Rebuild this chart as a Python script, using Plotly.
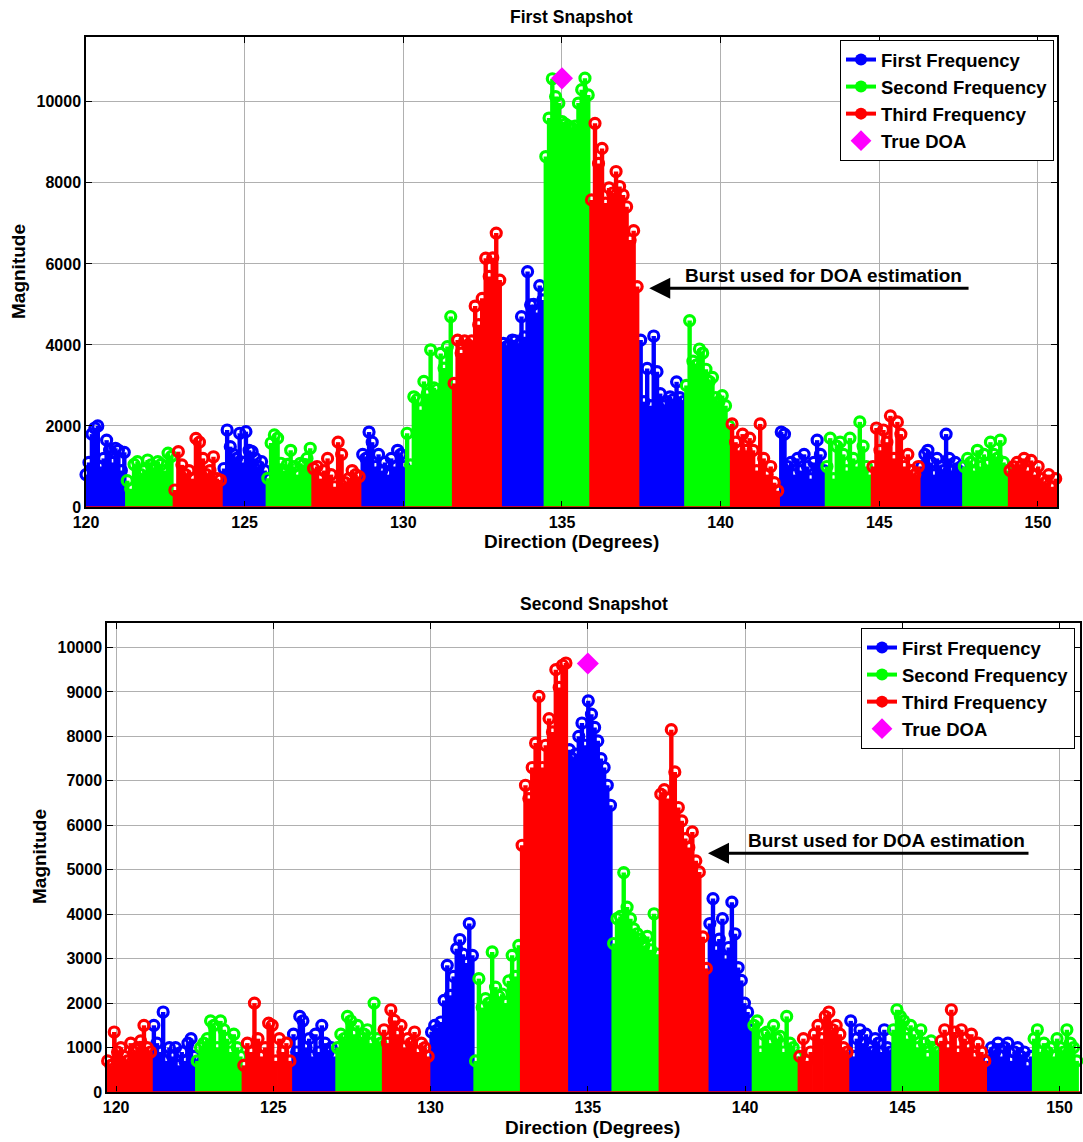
import numpy as np
import plotly.graph_objects as go

# ---------------- data ----------------
series_names = ["First Frequency", "Second Frequency", "Third Frequency"]
series_colors = ["#0000ff", "#00ff00", "#ff0000"]
stems_per_burst = 14

# burst edges (degrees) for the first snapshot; bursts cycle First, Second, Third
top_edges = [120.00, 121.30, 122.80, 124.35, 125.73, 127.17, 128.72, 130.12, 131.60,
             133.15, 134.49, 135.93, 137.48, 138.92, 140.36, 141.91, 143.35, 144.80,
             146.34, 147.68, 149.12, 150.67]
top_first_series = 0
top_bursts = [
    [800, 1100, 1800, 1950, 2000, 1000, 1200, 1650, 1400, 1100, 1450, 1400, 900, 1350],
    [650, 450, 1050, 1120, 800, 900, 1160, 1040, 950, 1120, 1050, 900, 1330, 1250],
    [420, 1365, 1040, 800, 900, 700, 1695, 1600, 1200, 800, 900, 1240, 700, 667],
    [950, 1900, 1490, 1300, 1200, 1820, 1100, 1860, 1400, 1365, 1200, 1000, 1120, 900],
    [710, 1580, 1780, 1700, 1080, 900, 1050, 1400, 1000, 800, 1080, 1050, 1200, 1450],
    [950, 1000, 700, 900, 1200, 800, 500, 1600, 1300, 600, 700, 900, 800, 750],
    [1300, 1200, 1850, 1600, 1000, 1300, 900, 1100, 800, 1200, 1000, 1400, 1300, 1000],
    [1820, 1040, 2720, 2650, 2400, 3100, 2800, 3880, 2940, 2900, 3790, 3430, 3960, 4700],
    [3050, 4120, 3800, 4100, 4000, 4100, 4960, 4500, 5150, 6140, 5690, 6150, 6760, 5600],
    [4040, 3950, 4000, 4120, 4100, 4000, 4700, 4200, 5810, 4990, 5000, 4800, 5465, 5110],
    [8650, 9600, 10570, 10130, 9970, 9510, 9450, 9400, 9350, 9400, 9970, 10300, 10585, 10170],
    [7580, 9470, 8480, 8850, 7500, 7875, 7750, 8280, 7910, 7700, 7410, 6590, 6820, 5440],
    [4120, 2600, 3420, 2500, 4220, 3340, 2800, 2500, 2600, 2720, 2650, 3090, 2700, 2600],
    [3000, 4600, 3600, 3500, 3900, 3800, 3400, 3100, 3200, 2700, 2600, 2750, 2500, 2000],
    [2050, 1600, 1400, 1800, 1400, 1700, 1400, 900, 2050, 1200, 800, 1000, 600, 400],
    [1850, 1800, 1000, 1100, 800, 1200, 900, 1300, 1000, 700, 1100, 1650, 1300, 900],
    [1000, 1700, 700, 1500, 1600, 1300, 900, 1700, 1200, 1000, 2100, 1500, 1000, 800],
    [1000, 1950, 1400, 1900, 1600, 2250, 1200, 2100, 1800, 1000, 1300, 900, 800, 1000],
    [1000, 1300, 1400, 1100, 800, 1200, 1000, 900, 1800, 1200, 900, 1100, 900, 1000],
    [1000, 1200, 1100, 900, 1400, 1000, 1300, 1050, 1600, 1300, 1200, 1650, 1100, 900],
    [900, 1000, 1100, 1000, 1200, 900, 1150, 800, 1000, 700, 600, 800, 500, 700],
]

# second snapshot; bursts cycle Third, First, Second
bottom_edges = [119.73, 121.20, 122.58, 124.06, 125.64, 127.04, 128.52, 130.03, 131.43,
                132.91, 134.41, 135.82, 137.32, 138.88, 140.28, 141.74, 143.36, 144.72,
                146.24, 147.73, 149.19, 150.65]
bottom_first_series = 2
bottom_bursts = [
    [700, 600, 1350, 900, 1000, 800, 700, 1100, 900, 1000, 1150, 1500, 1000, 900],
    [1500, 1100, 900, 1800, 700, 1000, 800, 1000, 600, 900, 700, 1100, 1200, 800],
    [700, 1000, 1100, 1200, 1600, 1500, 1000, 1600, 1400, 1200, 900, 1300, 1000, 800],
    [600, 1100, 900, 2000, 1200, 800, 1000, 1550, 1500, 700, 1200, 900, 1100, 700],
    [1300, 900, 1700, 1600, 1000, 1200, 800, 1300, 900, 1500, 1100, 900, 1000, 800],
    [1000, 1300, 1200, 1700, 1600, 1300, 1500, 1200, 1300, 1400, 1100, 2000, 1200, 1100],
    [1400, 1100, 1850, 1610, 1300, 1500, 1000, 1200, 1100, 1350, 900, 1100, 1000, 800],
    [1350, 1500, 1400, 1575, 2060, 2850, 2175, 2600, 3225, 3430, 3100, 2900, 3790, 3075],
    [700, 2550, 1900, 2100, 2000, 3150, 2360, 2150, 2200, 2000, 2500, 3075, 2600, 3300],
    [5550, 6900, 6600, 7300, 7850, 8900, 7300, 7800, 8400, 8100, 9500, 9100, 9600, 9650],
    [7700, 7500, 7600, 8000, 8300, 7800, 8800, 8500, 8200, 7900, 7500, 7300, 6900, 6450],
    [3340, 3900, 3950, 4935, 4160, 3900, 3670, 3560, 3440, 3300, 3500, 3200, 4010, 3100],
    [6700, 6800, 6600, 8150, 7200, 6400, 6100, 5700, 5500, 5850, 5200, 4950, 3490, 2780],
    [3790, 4350, 3200, 3440, 3900, 3000, 3250, 4270, 3560, 2800, 2510, 2000, 1800, 1390],
    [1500, 1600, 900, 1300, 1350, 1100, 1500, 1200, 1250, 900, 1700, 1100, 1000, 800],
    [800, 1200, 700, 900, 1300, 1500, 1200, 1700, 1800, 1400, 1500, 1300, 1000, 900],
    [1600, 800, 1200, 1400, 1100, 1300, 1000, 900, 1200, 1100, 900, 1400, 1000, 900],
    [1400, 1850, 1700, 1600, 1200, 1500, 1300, 1000, 1400, 1100, 800, 1150, 1000, 900],
    [1150, 1400, 1000, 1850, 1350, 900, 1400, 1200, 1000, 1300, 800, 1100, 900, 700],
    [700, 1000, 900, 1100, 800, 1000, 1100, 700, 900, 1000, 800, 900, 600, 800],
    [1200, 1400, 900, 1100, 900, 1000, 800, 1200, 1000, 900, 1400, 1100, 1000, 700],
]

true_doa_dir = 135.0
top_doa_mag = 10580
bottom_doa_mag = 9640

x_ticks = [120, 125, 130, 135, 140, 145, 150]
top_y_ticks = [0, 2000, 4000, 6000, 8000, 10000]
bottom_y_ticks = [0, 1000, 2000, 3000, 4000, 5000, 6000, 7000, 8000, 9000, 10000]

# ---------------- figure ----------------
W, H = 1083, 1142
FONT = "Liberation Sans"
fig = go.Figure()


def add_panel(edges, bursts, first, xa, ya, legend, doa_mag):
    for s in range(3):
        lx, ly, mx, my = [], [], [], []
        for i, vals in enumerate(bursts):
            if (i + first) % 3 != s:
                continue
            xs = np.linspace(edges[i], edges[i + 1], stems_per_burst, endpoint=False)
            for xv, yv in zip(xs, vals):
                lx += [xv, xv, None]
                ly += [0, yv, None]
                mx.append(xv)
                my.append(yv)
        c = series_colors[s]
        fig.add_trace(go.Scatter(x=lx, y=ly, mode="lines", line=dict(color=c, width=4.4),
                                 xaxis=xa, yaxis=ya, showlegend=False, hoverinfo="skip"))
        fig.add_trace(go.Scatter(x=mx, y=my, mode="markers", cliponaxis=False,
                                 marker=dict(symbol="circle-open", size=10, color=c,
                                             line=dict(color=c, width=3.2)),
                                 xaxis=xa, yaxis=ya, showlegend=False, hoverinfo="skip"))
    for s in range(3):
        c = series_colors[s]
        fig.add_trace(go.Scatter(x=[None], y=[None], mode="lines+markers", name=series_names[s],
                                 line=dict(color=c, width=4),
                                 marker=dict(symbol="circle", size=12, color=c),
                                 xaxis=xa, yaxis=ya, legend=legend))
    fig.add_trace(go.Scatter(x=[true_doa_dir], y=[doa_mag], mode="markers", name="True DOA",
                             marker=dict(symbol="diamond", size=17, color="#ff00ff"),
                             cliponaxis=False, xaxis=xa, yaxis=ya, legend=legend))


add_panel(top_edges, top_bursts, top_first_series, "x", "y", "legend", top_doa_mag)
add_panel(bottom_edges, bottom_bursts, bottom_first_series, "x2", "y2", "legend2", bottom_doa_mag)

axis_style = dict(showline=True, linecolor="black", linewidth=1.5, mirror="allticks",
                  ticks="inside", ticklen=6, tickcolor="black", showgrid=True,
                  gridcolor="#b0b0b0", gridwidth=1, zeroline=False, automargin=False,
                  tickfont=dict(family=FONT, size=16, color="black", weight="bold"))

leg_style = dict(xanchor="right", yanchor="top", bgcolor="white", bordercolor="black",
                 borderwidth=1, font=dict(family=FONT, size=18.5, color="black", weight="bold"),
                 itemwidth=30, tracegroupgap=0)

fig.update_layout(
    template="none",
    width=W, height=H, margin=dict(l=0, r=0, t=0, b=0, autoexpand=False),
    paper_bgcolor="white", plot_bgcolor="white",
    xaxis=dict(domain=[86 / W, 1057 / W], range=[120, 150.6], anchor="y",
               tickvals=x_ticks, ticktext=[str(v) for v in x_ticks], **axis_style),
    yaxis=dict(domain=[1 - 507 / H, 1 - 37 / H], range=[0, 11600], anchor="x",
               tickvals=top_y_ticks, ticktext=[str(v) for v in top_y_ticks], **axis_style),
    xaxis2=dict(domain=[107 / W, 1080 / W], range=[119.71, 150.65], anchor="y2",
                tickvals=x_ticks, ticktext=[str(v) for v in x_ticks], **axis_style),
    yaxis2=dict(domain=[1 - 1092 / H, 1 - 623 / H], range=[0, 10550], anchor="x2",
                tickvals=bottom_y_ticks, ticktext=[str(v) for v in bottom_y_ticks], **axis_style),
    legend=dict(x=1054 / W, y=1 - 40 / H, **leg_style),
    legend2=dict(x=1075 / W, y=1 - 628 / H, **leg_style),
    showlegend=True,
)

# red stem baselines
for xr, yr in (("x domain", "y"), ("x2 domain", "y2")):
    fig.add_shape(type="line", xref=xr, yref=yr, x0=0, x1=1, y0=0, y1=0,
                  line=dict(color="#ff0000", width=1.5), layer="above")

lab = dict(family=FONT, size=19, color="black", weight="bold")
ttl = dict(family=FONT, size=17.5, color="black", weight="bold")
ann = [
    dict(text="First Snapshot", x=571.5 / W, y=1 - 17 / H, font=ttl),
    dict(text="Second Snapshot", x=593.5 / W, y=1 - 604 / H, font=ttl),
    dict(text="Direction (Degrees)", x=571 / W, y=1 - 541 / H, font=lab),
    dict(text="Direction (Degrees)", x=592 / W, y=1 - 1127 / H, font=lab),
    dict(text="Magnitude", x=18 / W, y=1 - 272 / H, font=lab, textangle=-90),
    dict(text="Magnitude", x=39 / W, y=1 - 857 / H, font=lab, textangle=-90),
]
for a in ann:
    fig.add_annotation(xref="paper", yref="paper", showarrow=False,
                       xanchor="center", yanchor="middle", **a)

# arrows and labels
fig.add_annotation(x=137.75, y=5400, ax=147.86, ay=5400, xref="x", yref="y", axref="x", ayref="y",
                   text="", showarrow=True, arrowhead=2, arrowsize=1.4, arrowwidth=3, arrowcolor="black")
fig.add_annotation(x=138.81, y=5711, xref="x", yref="y", text="Burst used for DOA estimation",
                   showarrow=False, xanchor="left", yanchor="middle", font=lab)
fig.add_annotation(x=138.82, y=5371, ax=149.06, ay=5371, xref="x2", yref="y2", axref="x2", ayref="y2",
                   text="", showarrow=True, arrowhead=2, arrowsize=1.4, arrowwidth=3, arrowcolor="black")
fig.add_annotation(x=140.03, y=5664, xref="x2", yref="y2", text="Burst used for DOA estimation",
                   showarrow=False, xanchor="left", yanchor="middle", font=lab)

fig.write_html("out.html")
